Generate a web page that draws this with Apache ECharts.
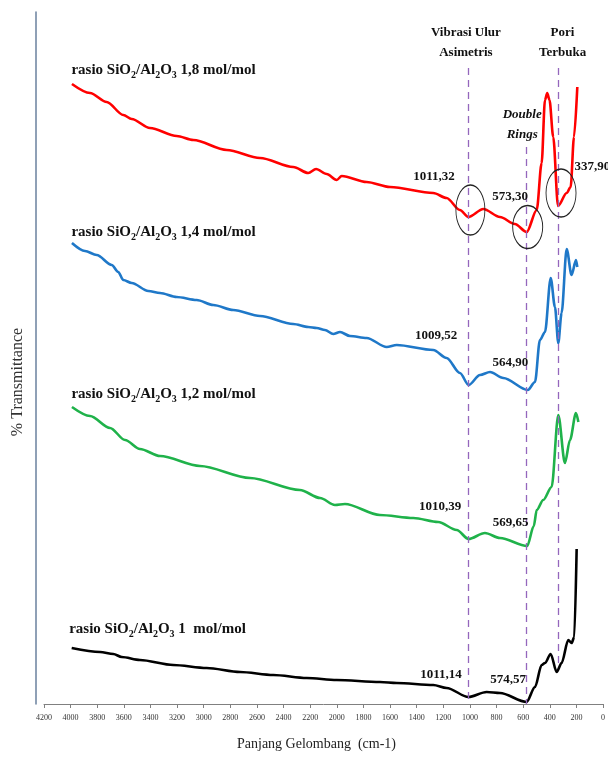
<!DOCTYPE html>
<html>
<head>
<meta charset="utf-8">
<script src="https://cdn.jsdelivr.net/npm/echarts@6/dist/echarts.min.js"></script>
<style>
  html, body { margin: 0; padding: 0; background: #fff; }
  #chart { width: 608px; height: 758px; }
</style>
</head>
<body>
<div id="chart"></div>
<script>
// FTIR spectra of the zeolite samples: [wavenumber (cm-1), stacked transmittance]
const spec18 = [[3990,620],[3854,611],[3729,602],[3604,589],[3541,585],[3404,576],[3203,568],[3078,564],[2827,554],[2577,546],[2327,537],[2214,531],[2156,535],[2076,530],[2001,524],[1963,528],[1776,522],[1600,517],[1275,511],[1175,506],[1075,494],[1011.32,487],[899,495],[774,487],[662,480],[573.30,472],[498,494],[461,541],[436,604],[419,611],[402,604],[374,567],[337.90,498],[273,511],[243,517],[218,567],[193,617]];
const spec14 = [[3990,461],[3892,453],[3804,449],[3691,439],[3642,432],[3604,424],[3541,421],[3416,413],[3328,411],[3203,407],[3053,404],[2928,399],[2778,394],[2577,388],[2327,380],[2214,377],[2151,376],[2089,374],[2027,370],[1976,372],[1901,368],[1776,366],[1625,357],[1550,359],[1275,354],[1175,346],[1075,331],[1009.52,319],[924,329],[849,332],[749,326],[564.90,314],[511,322],[474,364],[436,372],[393,426],[361,397],[336,361],[311,391],[273,455],[236,429],[203,444],[193,437]];
const spec12 = [[3990,297],[3854,288],[3704,276],[3591,264],[3479,255],[3328,248],[3028,238],[2652,226],[2277,214],[2126,206],[2014,199],[1939,200],[1676,189],[1425,186],[1238,182],[1099,174],[1010.39,165],[887,171],[774,166],[569.65,158],[520,178],[498,194],[449,204],[386,217],[336,289],[286,241],[248,264],[203,291],[185,282]];
const spec10 = [[3992,56],[3779,52],[3679,50],[3616,47],[3479,44],[3229,39],[2978,36],[2727,32],[2477,29],[2226,26],[2001,24],[1676,22],[1550,21],[1275,19],[1175,16],[1011.14,7],[874,12],[774,11],[574.57,2],[511,17],[461,39],[436,41],[393,50],[348,32],[311,41],[261,64],[236,61],[216,67],[198,155]];

// Labelled absorption bands (cm-1)
const bands18 = [1011.32, 573.30, 337.90];
const bands14 = [1009.52, 564.90];
const bands12 = [1010.39, 569.65];
const bands10 = [1011.14, 574.57];

// Sample Si/Al ratios
const ratios = ['1,8', '1,4', '1,2', '1 '];

// Wavenumber axis
const wnMin = 0, wnMax = 4200, wnStep = 200;

const serif = 'Liberation Serif, Times New Roman, serif';
const annoText = { fontFamily: serif, fontWeight: 'bold', fontSize: 13, color: '#111' };

function valueAt(spec, wn) {
  return spec.find(d => d[0] === wn)[1];
}
function fmt(wn) {
  return wn.toFixed(2).replace('.', ',');
}

// invisible anchor carrying a text label
function textPoint(coord, text, pos, align, extra) {
  return {
    coord: coord,
    symbol: 'circle',
    symbolSize: 1,
    itemStyle: { color: 'rgba(0,0,0,0)' },
    label: Object.assign({
      show: true, position: pos, align: align || 'center', verticalAlign: 'middle',
      formatter: text
    }, annoText, extra || {})
  };
}
function bandLabel(spec, wn, pos, align) {
  return textPoint([wn, valueAt(spec, wn)], fmt(wn), pos, align);
}
function titleLabel(spec, ratio, pos) {
  return {
    coord: spec[0],
    symbol: 'circle',
    symbolSize: 1,
    itemStyle: { color: 'rgba(0,0,0,0)' },
    label: {
      show: true, position: pos, align: 'left', verticalAlign: 'middle',
      formatter: '{t|rasio SiO}{s|2}{t|/Al}{s|2}{t|O}{s|3}{t| ' + ratio + ' mol/mol}',
      rich: {
        t: { fontFamily: serif, fontWeight: 'bold', fontSize: 15, color: '#111', lineHeight: 20 },
        s: { fontFamily: serif, fontWeight: 'bold', fontSize: 10, color: '#111', verticalAlign: 'bottom' }
      }
    }
  };
}
const ellipsePath = 'path://M0,50 A50,50 0 1,1 100,50 A50,50 0 1,1 0,50 Z';
function ring(spec, wn, size, offset) {
  return {
    coord: [wn, valueAt(spec, wn)],
    symbol: ellipsePath,
    symbolSize: size,
    symbolOffset: offset,
    symbolKeepAspect: false,
    itemStyle: { color: 'rgba(0,0,0,0)', borderColor: '#222', borderWidth: 1.1 },
    label: { show: false }
  };
}

function lineSeries(name, spec, color, markData) {
  return {
    name: name,
    type: 'line',
    data: spec,
    showSymbol: false,
    smooth: 0.3,
    smoothMonotone: 'x',
    lineStyle: { color: color, width: 2.6 },
    itemStyle: { color: color },
    markPoint: { silent: true, animation: false, data: markData },
    z: 3
  };
}

const chart = echarts.init(document.getElementById('chart'), null, { renderer: 'canvas' });

const option = {
  animation: false,
  backgroundColor: '#ffffff',
  grid: { left: 44, right: 5, top: 12, bottom: 54 },
  xAxis: {
    type: 'value',
    inverse: true,
    min: wnMin,
    max: wnMax,
    interval: wnStep,
    name: 'Panjang Gelombang  (cm-1)',
    nameLocation: 'middle',
    nameGap: 33,
    nameTextStyle: { fontFamily: serif, fontSize: 14, color: '#222', padding: [0, 14, 0, 0] },
    axisLine: { show: true, onZero: false, lineStyle: { color: '#808080', width: 1 } },
    axisTick: { show: true, length: 4, lineStyle: { color: '#808080' } },
    axisLabel: { fontFamily: serif, fontSize: 8, color: '#333', margin: 10, formatter: v => String(v) },
    splitLine: { show: false }
  },
  yAxis: {
    type: 'value',
    position: 'left',
    min: 0,
    max: 692,
    offset: 8,
    axisLine: { show: true, onZero: false, lineStyle: { color: '#6a819e', width: 1.5 } },
    axisTick: { show: false },
    axisLabel: { show: false },
    splitLine: { show: false }
  },
  graphic: [{
    type: 'text',
    x: 18, y: 382,
    rotation: Math.PI / 2,
    style: {
      text: '% Transmittance',
      fontFamily: serif, fontSize: 16, fill: '#333',
      align: 'center', verticalAlign: 'middle'
    }
  }],
  series: [
    Object.assign(lineSeries('rasio 1,8', spec18, '#ff0000', [
      titleLabel(spec18, ratios[0], [0, -13]),
      bandLabel(spec18, bands18[0], [-34, -40]),
      bandLabel(spec18, bands18[1], [-16, -35]),
      bandLabel(spec18, bands18[2], [17, -39], 'left'),
      ring(spec18, bands18[0], [29, 50], [2, -7]),
      ring(spec18, bands18[1], [30, 43], [1, -5]),
      ring(spec18, bands18[2], [30, 48], [3, -13]),
      textPoint([bands18[0], 636], 'Vibrasi Ulur\nAsimetris', [-2, -25], 'center', { lineHeight: 20 }),
      textPoint([bands18[1], 557], 'Double\nRings', [-4, -22], 'center', { lineHeight: 20, fontStyle: 'italic' }),
      textPoint([bands18[2], 636], 'Pori\nTerbuka', [5, -25], 'center', { lineHeight: 20 })
    ]), {
      markLine: {
        silent: true,
        animation: false,
        symbol: 'none',
        label: { show: false },
        lineStyle: { color: '#9467bd', type: [7, 5], width: 1.3 },
        data: [
          [{ coord: [bands18[0], 636] }, { coord: [bands18[0], 0] }],
          [{ coord: [bands18[1], 557] }, { coord: [bands18[1], 0] }],
          [{ coord: [bands18[2], 636] }, { coord: [bands18[2], 36] }]
        ]
      }
    }),
    lineSeries('rasio 1,4', spec14, '#1f78c8', [
      titleLabel(spec14, ratios[1], [0, -10]),
      bandLabel(spec14, bands14[0], [-32, -49]),
      bandLabel(spec14, bands14[1], [-17, -27])
    ]),
    lineSeries('rasio 1,2', spec12, '#1fb24a', [
      titleLabel(spec12, ratios[2], [0, -12]),
      bandLabel(spec12, bands12[0], [-28, -32]),
      bandLabel(spec12, bands12[1], [-16, -23])
    ]),
    lineSeries('rasio 1', spec10, '#000000', [
      titleLabel(spec10, ratios[3], [-2, -18]),
      bandLabel(spec10, bands10[0], [-27, -22]),
      bandLabel(spec10, bands10[1], [-18, -22])
    ])
  ]
};

chart.setOption(option);
</script>
</body>
</html>
